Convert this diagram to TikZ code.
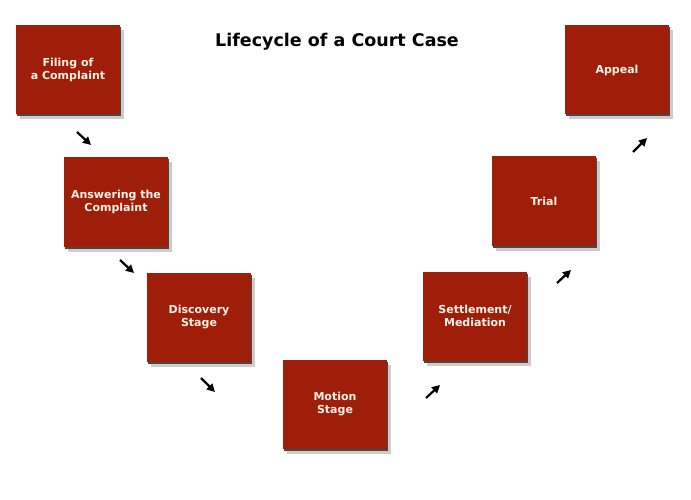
\documentclass[tikz,border=0pt]{standalone}
\usepackage{fontspec}
\setmainfont{DejaVu Sans}
\usetikzlibrary{arrows.meta, shadows}
\definecolor{courtred}{RGB}{158,30,10}
\definecolor{shadedark}{RGB}{82,68,68}
\definecolor{shadelight}{RGB}{204,204,204}
\definecolor{labelcream}{RGB}{255,242,230}
\tikzset{
    stagebox/.style={rectangle, fill=courtred, text=labelcream, minimum width=104pt, minimum height=89pt, inner sep=0pt, align=center, font=\fontsize{11}{13}\selectfont\bfseries,
        drop shadow={shadow xshift=4pt, shadow yshift=-5pt, fill=shadelight, opacity=1},
        drop shadow={shadow xshift=1pt, shadow yshift=-2pt, fill=shadedark, opacity=1}},
    stagearrow/.style={-{Triangle[length=8pt,width=8pt]}, line width=2.2pt, black},
}

\begin{document}
\begin{tikzpicture}[x=1pt,y=-1pt]
\useasboundingbox[fill=white] (0,0) rectangle (691,500);

% Title
\node[font=\fontsize{17.5}{20}\selectfont\bfseries] (title) at (337,42) {Lifecycle of a Court Case};

% Stages going down
\node[stagebox] (filing) at (68,70) {Filing of\\a Complaint};
\node[stagebox] (answer) at (116,202) {Answering the\\Complaint};
\node[stagebox] (discovery) at (199,317) {Discovery\\Stage};
\node[stagebox] (motion) at (335,404) {Motion\\Stage};

% Stages going up
\node[stagebox] (settle) at (475,316) {Settlement/\\Mediation};
\node[stagebox] (trial) at (544,201) {Trial};
\node[stagebox] (appeal) at (617,70) {Appeal};

% Step arrows
\coordinate (a1s) at (77,132);  \coordinate (a1e) at (91,145);
\coordinate (a2s) at (120,260); \coordinate (a2e) at (134,273);
\coordinate (a3s) at (201,378); \coordinate (a3e) at (215,392);
\coordinate (a4s) at (426,398); \coordinate (a4e) at (440,385);
\coordinate (a5s) at (557,283); \coordinate (a5e) at (571,270);
\coordinate (a6s) at (633,152); \coordinate (a6e) at (647,138);
\draw[stagearrow] (a1s) -- (a1e);
\draw[stagearrow] (a2s) -- (a2e);
\draw[stagearrow] (a3s) -- (a3e);
\draw[stagearrow] (a4s) -- (a4e);
\draw[stagearrow] (a5s) -- (a5e);
\draw[stagearrow] (a6s) -- (a6e);
\end{tikzpicture}
\end{document}
